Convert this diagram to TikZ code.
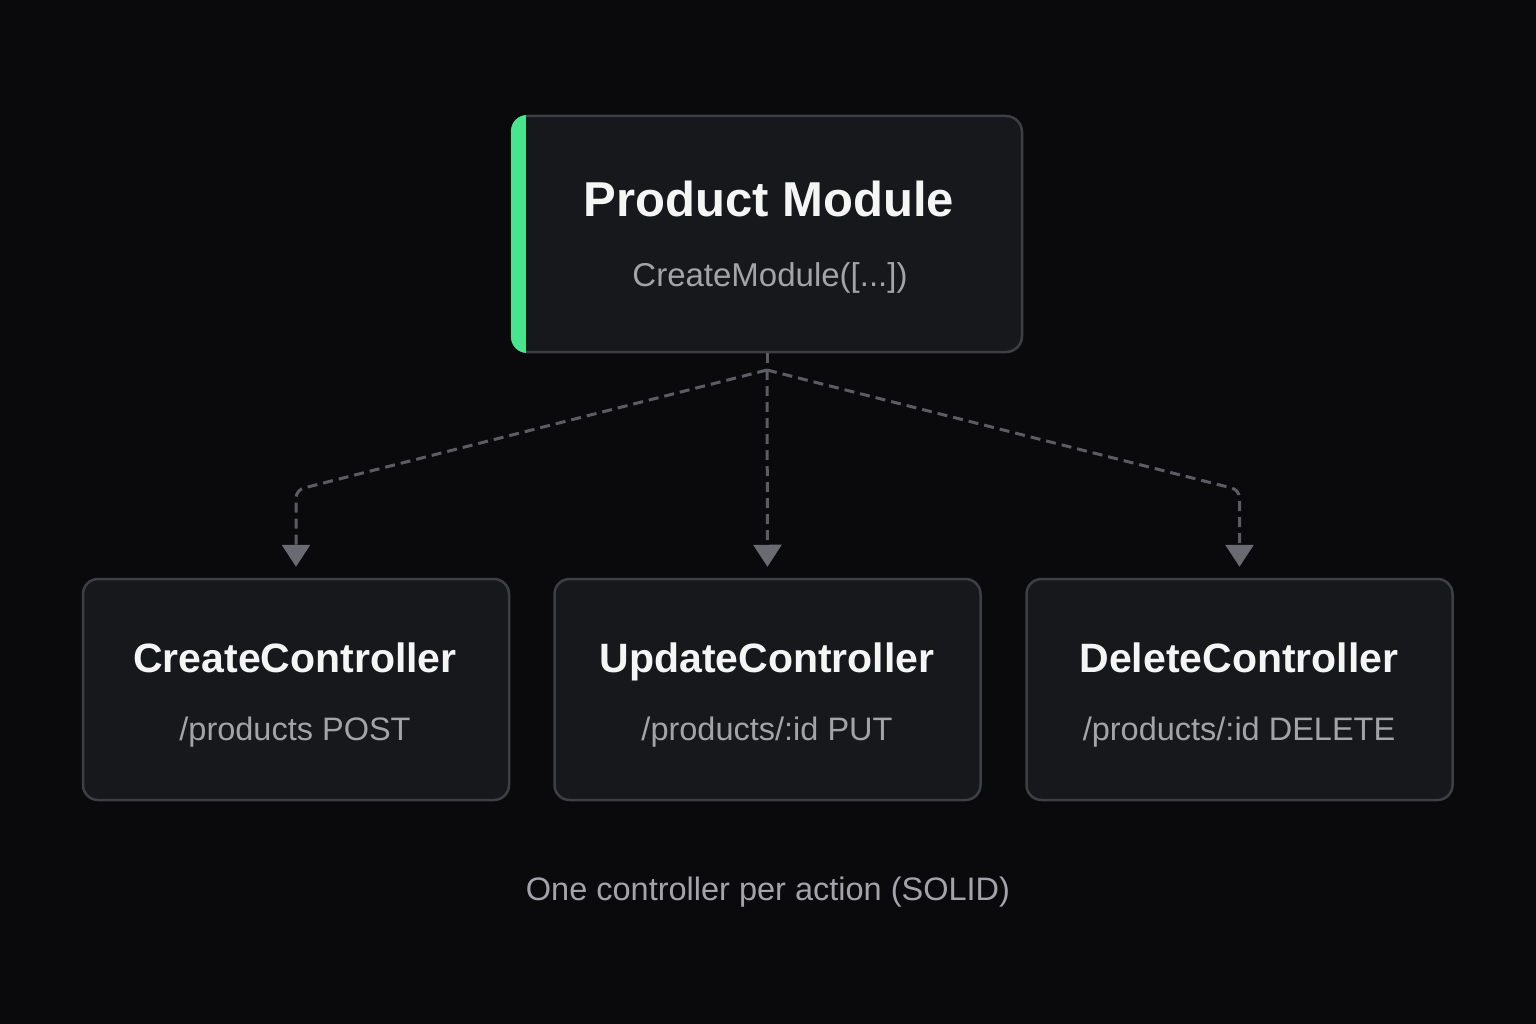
\documentclass[tikz,border=0pt]{standalone}
\usepackage{fontspec}
\setmainfont{Liberation Sans}
\usetikzlibrary{arrows.meta,calc}
\definecolor{bgc}{HTML}{0A0A0C}
\definecolor{boxfill}{HTML}{17181C}
\definecolor{boxline}{HTML}{3E3F44}
\definecolor{accent}{HTML}{48E48E}
\definecolor{titlec}{HTML}{F5F5F6}
\definecolor{subc}{HTML}{A3A3AA}
\definecolor{connc}{HTML}{5C5D63}
\definecolor{tipc}{HTML}{6A6B72}
\tikzset{
  card/.style={draw=boxline, line width=2.5pt, fill=boxfill, rounded corners=15pt, inner sep=0pt, minimum width=426pt, minimum height=221pt},
  cardtitle/.style={text=titlec, font=\fontsize{41}{45}\selectfont\bfseries, inner sep=0pt, anchor=base},
  cardsub/.style={text=subc, font=\fontsize{32.5}{36}\selectfont, inner sep=0pt, anchor=base},
  conn/.style={draw=connc, line width=3pt, dash pattern=on 10pt off 6pt, rounded corners=8pt},
  tipped/.style={-{Triangle[width=28pt,length=22pt,fill=tipc,color=tipc]}, shorten >=11pt}
}
\begin{document}
\begin{tikzpicture}[x=1pt,y=-1pt]
\useasboundingbox (0,0) rectangle (1536,1024);
\fill[bgc] (0,0) rectangle (1536,1024);
% top module card
\node[card, minimum width=510pt, minimum height=236pt, rounded corners=16pt] (mod) at (767,234) {};
\begin{scope}
  \clip[rounded corners=16pt] (511,115) rectangle (1023,353);
  \fill[accent] (511,115) rectangle (526,353);
\end{scope}
\node[text=titlec, font=\fontsize{49}{54}\selectfont\bfseries, inner sep=0pt, anchor=base] (modtitle) at (769,217) {Product Module};
\node[text=subc, font=\fontsize{33}{36}\selectfont, inner sep=0pt, anchor=base] (modsub) at (770,287) {CreateModule([...])};
% controller cards
\node[card] (create) at (296,689.5) {};
\node[card] (update) at (767.5,689.5) {};
\node[card] (delete) at (1239.5,689.5) {};
\node[cardtitle] (createT) at (295,672) {CreateController};
\node[cardsub] (createS) at (295,740) {/products POST};
\node[cardtitle] (updateT) at (767,672) {UpdateController};
\node[cardsub] (updateS) at (767,740) {/products/:id PUT};
\node[cardtitle] (deleteT) at (1239,672) {DeleteController};
\node[cardsub] (deleteS) at (1239,740) {/products/:id DELETE};
% caption
\node[text=subc, font=\fontsize{32.5}{36}\selectfont, inner sep=0pt, anchor=base] (caption) at (768,900) {One controller per action (SOLID)};
% connectors
\coordinate (hub) at (mod.south |- 0,370);
\draw[conn] (mod.south) -- (hub);
\draw[conn, tipped] (hub) -- (create.north |- 0,490) -- (create.north);
\draw[conn, tipped] (hub) -- (update.north);
\draw[conn, tipped] (hub) -- (delete.north |- 0,490) -- (delete.north);
\end{tikzpicture}
\end{document}
